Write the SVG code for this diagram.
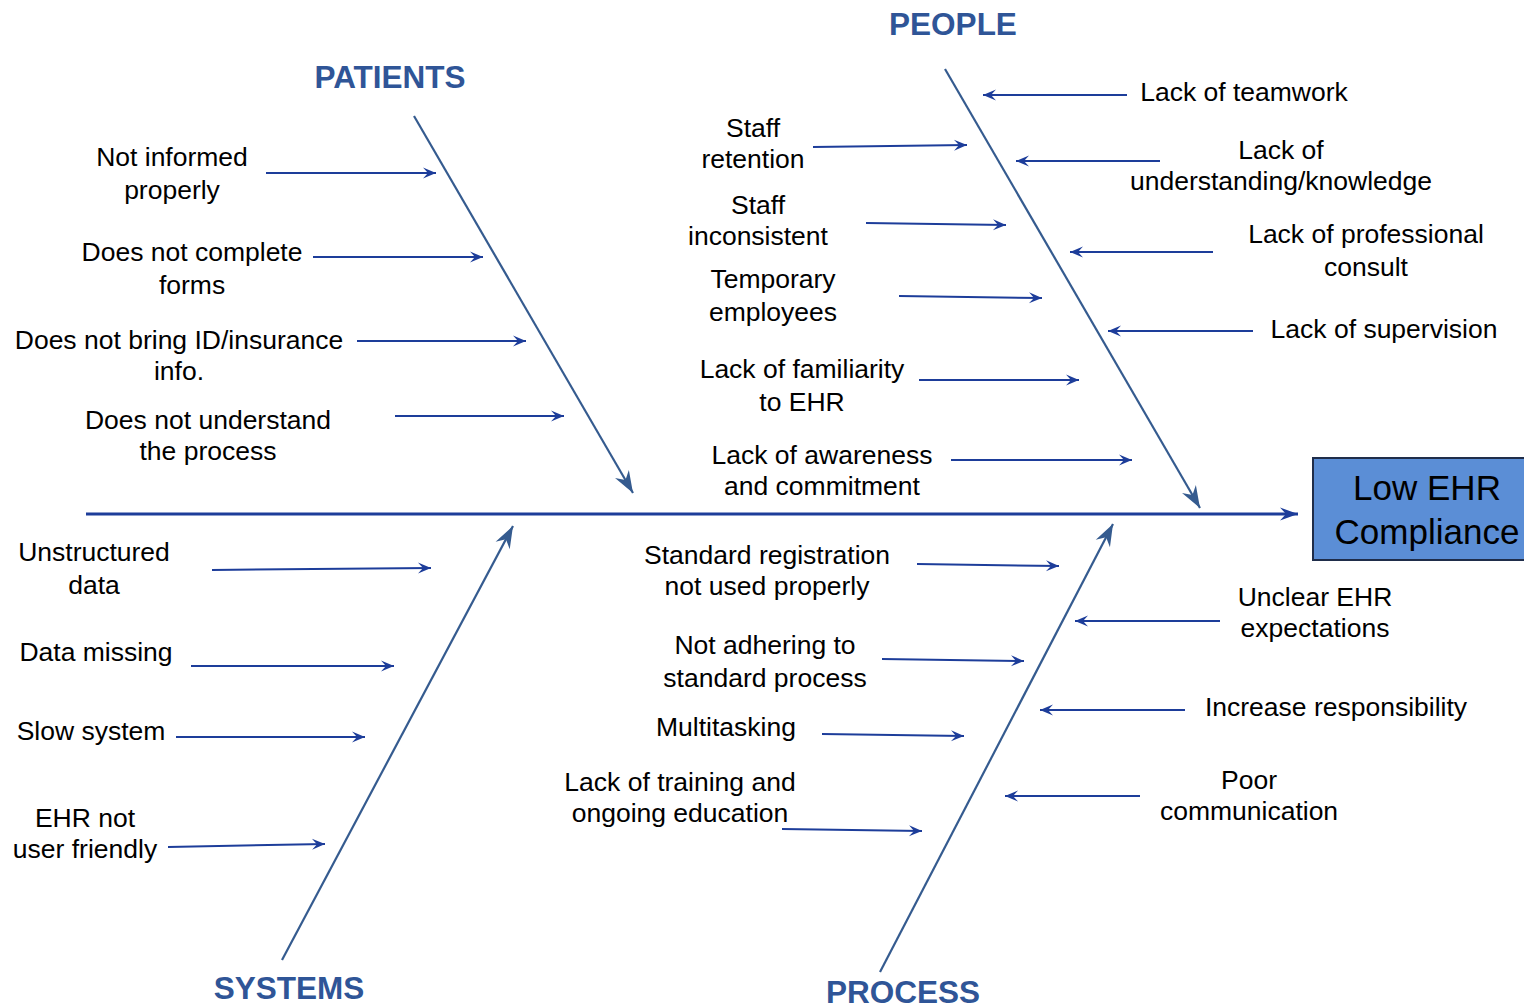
<svg xmlns="http://www.w3.org/2000/svg" width="1524" height="1007" viewBox="0 0 1524 1007">
<defs>
<marker id="sa" viewBox="-15 -7 16 14" refX="0" refY="0" markerWidth="16" markerHeight="14" markerUnits="userSpaceOnUse" orient="auto">
<path d="M0,0 L-13,-5.5 L-8,0 L-13,5.5 Z" fill="#1d3d9a"/>
</marker>
<marker id="ba" viewBox="-24 -10 25 20" refX="0" refY="0" markerWidth="25" markerHeight="20" markerUnits="userSpaceOnUse" orient="auto">
<path d="M0,0 L-22,-8 L-15,0 L-22,8 Z" fill="#355b8f"/>
</marker>
<marker id="ma" viewBox="-20 -8 21 16" refX="0" refY="0" markerWidth="21" markerHeight="16" markerUnits="userSpaceOnUse" orient="auto">
<path d="M0,0 L-18,-6.5 L-12,0 L-18,6.5 Z" fill="#1d3d9a"/>
</marker>
</defs>
<style>
text{font-family:"Liberation Sans",Arial,sans-serif;fill:#000}
.t{font-size:26.5px;text-anchor:middle}
.h{font-size:31.5px;font-weight:bold;fill:#2f5597;text-anchor:middle}
.b{font-size:35px;text-anchor:middle}
.sa{stroke:#1d3d9a;stroke-width:2;fill:none;marker-end:url(#sa)}
.br{stroke:#355b8f;stroke-width:2.2;fill:none;marker-end:url(#ba)}
.sp{stroke:#1d3d9a;stroke-width:3;fill:none;marker-end:url(#ma)}
</style>
<rect width="1524" height="1007" fill="#fff"/>
<g id="connectors">
<line class="sp" x1="86" y1="514" x2="1298" y2="514"/>
<line class="br" x1="414" y1="116" x2="633" y2="493"/>
<line class="br" x1="945" y1="69" x2="1200" y2="508"/>
<line class="br" x1="282" y1="960" x2="513" y2="526"/>
<line class="br" x1="880" y1="972" x2="1113" y2="524"/>
<line class="sa" x1="266" y1="173" x2="436" y2="173"/>
<line class="sa" x1="313" y1="257" x2="483" y2="257"/>
<line class="sa" x1="357" y1="341" x2="526" y2="341"/>
<line class="sa" x1="395" y1="416" x2="564" y2="416"/>
<line class="sa" x1="813" y1="147" x2="967" y2="145"/>
<line class="sa" x1="866" y1="223" x2="1006" y2="225"/>
<line class="sa" x1="899" y1="296" x2="1042" y2="298"/>
<line class="sa" x1="919" y1="380" x2="1079" y2="380"/>
<line class="sa" x1="951" y1="460" x2="1132" y2="460"/>
<line class="sa" x1="1127" y1="95" x2="983" y2="95"/>
<line class="sa" x1="1160" y1="161" x2="1016" y2="161"/>
<line class="sa" x1="1213" y1="252" x2="1070" y2="252"/>
<line class="sa" x1="1253" y1="331" x2="1108" y2="331"/>
<line class="sa" x1="212" y1="570" x2="431" y2="568"/>
<line class="sa" x1="191" y1="666" x2="394" y2="666"/>
<line class="sa" x1="176" y1="737" x2="365" y2="737"/>
<line class="sa" x1="168" y1="847" x2="325" y2="844"/>
<line class="sa" x1="917" y1="564" x2="1059" y2="566"/>
<line class="sa" x1="882" y1="659" x2="1024" y2="661"/>
<line class="sa" x1="822" y1="734" x2="964" y2="736"/>
<line class="sa" x1="782" y1="829" x2="922" y2="831"/>
<line class="sa" x1="1220" y1="621" x2="1075" y2="621"/>
<line class="sa" x1="1185" y1="710" x2="1040" y2="710"/>
<line class="sa" x1="1140" y1="796" x2="1005" y2="796"/>
</g>
<g id="effect">
<rect x="1313" y="458" width="215" height="102" fill="#5b8ed6" stroke="#1f2d4a" stroke-width="2"/>
<text class="b" x="1427" y="500">Low EHR</text>
<text class="b" x="1427" y="544">Compliance</text>
</g>
<g id="cat-patients"><text class="h" x="390" y="88">PATIENTS</text></g>
<g id="cat-people"><text class="h" x="953" y="35">PEOPLE</text></g>
<g id="cat-systems"><text class="h" x="289" y="999">SYSTEMS</text></g>
<g id="cat-process"><text class="h" x="903" y="1003">PROCESS</text></g>
<g id="c-not-informed"><text class="t" x="172" y="166">Not informed</text><text class="t" x="172" y="199">properly</text></g>
<g id="c-forms"><text class="t" x="192" y="261">Does not complete</text><text class="t" x="192" y="294">forms</text></g>
<g id="c-id"><text class="t" x="179" y="349">Does not bring ID/insurance</text><text class="t" x="179" y="380">info.</text></g>
<g id="c-understand"><text class="t" x="208" y="429">Does not understand</text><text class="t" x="208" y="460">the process</text></g>
<g id="c-retention"><text class="t" x="753" y="137">Staff</text><text class="t" x="753" y="168">retention</text></g>
<g id="c-inconsistent"><text class="t" x="758" y="214">Staff</text><text class="t" x="758" y="245">inconsistent</text></g>
<g id="c-temporary"><text class="t" x="773" y="288">Temporary</text><text class="t" x="773" y="321">employees</text></g>
<g id="c-familiarity"><text class="t" x="802" y="378">Lack of familiarity</text><text class="t" x="802" y="411">to EHR</text></g>
<g id="c-awareness"><text class="t" x="822" y="464">Lack of awareness</text><text class="t" x="822" y="495">and commitment</text></g>
<g id="c-teamwork"><text class="t" x="1244" y="101">Lack of teamwork</text></g>
<g id="c-knowledge"><text class="t" x="1281" y="159">Lack of</text><text class="t" x="1281" y="190">understanding/knowledge</text></g>
<g id="c-consult"><text class="t" x="1366" y="243">Lack of professional</text><text class="t" x="1366" y="276">consult</text></g>
<g id="c-supervision"><text class="t" x="1384" y="338">Lack of supervision</text></g>
<g id="c-unstructured"><text class="t" x="94" y="561">Unstructured</text><text class="t" x="94" y="594">data</text></g>
<g id="c-missing"><text class="t" x="96" y="661">Data missing</text></g>
<g id="c-slow"><text class="t" x="91" y="740">Slow system</text></g>
<g id="c-friendly"><text class="t" x="85" y="827">EHR not</text><text class="t" x="85" y="858">user friendly</text></g>
<g id="c-registration"><text class="t" x="767" y="564">Standard registration</text><text class="t" x="767" y="595">not used properly</text></g>
<g id="c-adhering"><text class="t" x="765" y="654">Not adhering to</text><text class="t" x="765" y="687">standard process</text></g>
<g id="c-multitasking"><text class="t" x="726" y="736">Multitasking</text></g>
<g id="c-training"><text class="t" x="680" y="791">Lack of training and</text><text class="t" x="680" y="822">ongoing education</text></g>
<g id="c-unclear"><text class="t" x="1315" y="606">Unclear EHR</text><text class="t" x="1315" y="637">expectations</text></g>
<g id="c-responsibility"><text class="t" x="1336" y="716">Increase responsibility</text></g>
<g id="c-communication"><text class="t" x="1249" y="789">Poor</text><text class="t" x="1249" y="820">communication</text></g>
</svg>
